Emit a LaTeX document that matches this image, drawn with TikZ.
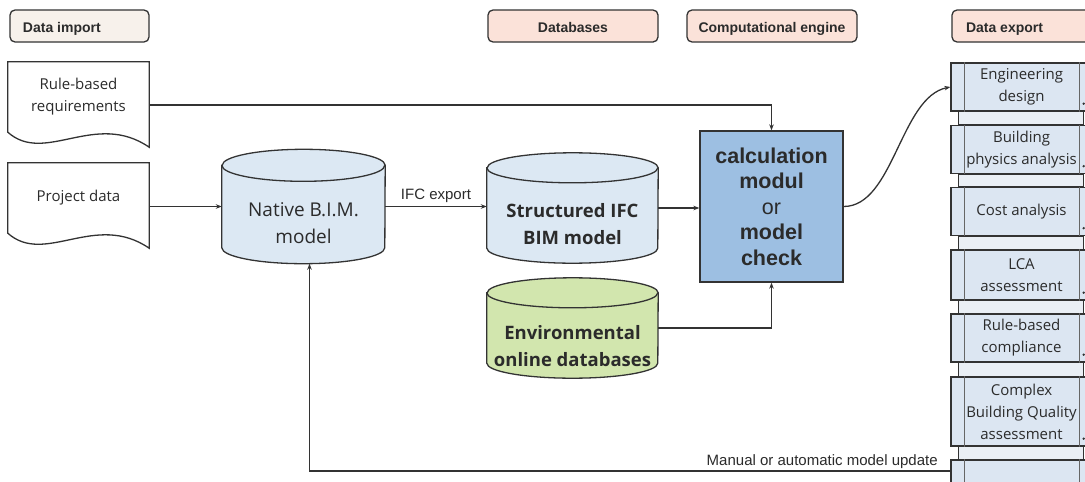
\documentclass[tikz,border=0pt]{standalone}
\usepackage{fontspec}
\setmainfont{Open Sans}
\newfontfamily\arialfont{Liberation Sans}
\usetikzlibrary{arrows.meta}
\pgfdeclarelayer{background}
\pgfsetlayers{background,main}
\definecolor{linegray}{HTML}{333333}
\definecolor{bargray}{HTML}{666666}
\definecolor{textgray}{HTML}{2B2B2B}
\definecolor{importbeige}{HTML}{F7F1EB}
\definecolor{headpink}{HTML}{FBE2D9}
\definecolor{dbblue}{HTML}{DCE8F3}
\definecolor{envgreen}{HTML}{D2E6AE}
\definecolor{calcblue}{HTML}{9DBFE2}
\definecolor{procblue}{HTML}{DCE6F2}
\definecolor{linkblue}{HTML}{EAEFF5}
\begin{document}
\begin{tikzpicture}
[x=1pt,y=-1pt,
  headdecorate/.style={shape=rectangle,rounded corners=5pt,draw=linegray,line width=1.3pt,
    minimum width=170pt,minimum height=32pt,inner sep=0pt,text=textgray,
    text height=13.5pt,text depth=0.5pt,
    font=\arialfont\bfseries\fontsize{14}{16}\selectfont},
  docdecorate/.style={shape=rectangle,minimum width=141pt,minimum height=70pt,align=center,
    text=textgray,font=\fontsize{15}{22}\selectfont},
  docline/.style={draw=linegray,line width=1.3pt},
  dbdecorate/.style={shape=rectangle,minimum width=163pt,minimum height=114pt},
  dbline/.style={draw=linegray,line width=1.3pt},
  dbtext/.style={align=center,text=textgray,font=\fontsize{19}{27}\selectfont},
  dbbold/.style={align=center,text=textgray,font=\bfseries\fontsize{18.5}{27}\selectfont},
  calcdecorate/.style={shape=rectangle,draw=linegray,line width=1.3pt,fill=calcblue,
    minimum width=143pt,minimum height=151pt,align=center,text=textgray,
    font=\arialfont\bfseries\fontsize{21.5}{25.5}\selectfont},
  procdecorate/.style={shape=rectangle,draw=linegray,line width=1.3pt,fill=procblue,
    minimum width=141pt,minimum height=48pt,align=center,text=textgray,
    font=\fontsize{15}{22}\selectfont},
  linkdecorate/.style={draw=linegray,line width=1.3pt,fill=linkblue},
  bardecorate/.style={draw=bargray,line width=1pt},
  linedecorate/.style={draw=linegray,line width=1.3pt,-{Stealth[length=6pt,width=4.5pt]}},
  labeldecorate/.style={text=textgray,font=\arialfont\fontsize{15}{17}\selectfont}]
\useasboundingbox (0,0) rectangle (1085,482);
\clip (0,0) rectangle (1085,482);
% headers
\node (dataimp) at (79.5,26) [headdecorate,fill=importbeige,minimum width=139pt] {\makebox[113pt][l]{Data import}};
\node (dbhead) at (573,26) [headdecorate,fill=headpink] {Databases};
\node (enghead) at (772,26) [headdecorate,fill=headpink] {Computational engine};
\node (exphead) at (1037,26) [headdecorate,fill=headpink] {\makebox[142pt][l]{Data export}};
% input documents
\node (ruledoc) at (78.5,97) [docdecorate] {Rule-based\\requirements};
\node (projdoc) at (78.5,198) [docdecorate] {Project data};
\foreach \d in {ruledoc,projdoc}
  \path[docline] (\d.south west) -- (\d.north west) -- (\d.north east) -- ([yshift=-15pt]\d.south east)
    .. controls ([xshift=-54pt,yshift=22pt]\d.south east) and ([xshift=37pt,yshift=-33pt]\d.south west) .. (\d.south west) -- cycle;
% databases
\node (nat) at (303.5,206.5) [dbdecorate,
  label={[dbtext,yshift=-17pt]center:Native B.I.M.\\model}] {};
\node (sib) at (572.5,208) [dbdecorate,minimum width=171pt,minimum height=110pt,
  label={[dbbold,yshift=-16pt]center:Structured IFC\\BIM model}] {};
\node (env) at (572.5,328) [dbdecorate,minimum width=171pt,minimum height=100pt,
  label={[dbbold,yshift=-18pt]center:Environmental\\online databases}] {};
\begin{pgfonlayer}{background}
\fill[white] (0,0) rectangle (1085,482);
\foreach \c/\f/\r/\h in {nat/dbblue/81.5/16,sib/dbblue/85.5/15,env/envgreen/85.5/15} {
  \path[dbline,fill=\f] ([yshift=-\h pt]\c.north west) -- ([yshift=\h pt]\c.south west)
    arc[start angle=180,end angle=360,x radius=\r pt,y radius=\h pt]
    -- ([yshift=-\h pt]\c.north east)
    arc[start angle=0,end angle=180,x radius=\r pt,y radius=\h pt] -- cycle;
  \draw[dbline] ([yshift=-\h pt]\c.north west) arc[start angle=180,end angle=360,x radius=\r pt,y radius=\h pt];
}
\end{pgfonlayer}
% computational engine
\node (calc) at (771.5,206.5) [calcdecorate] {calculation\\modul\\{\mdseries or}\\model\\check};
% export stack
\node (eng) at (1021.5,87) [procdecorate] {Engineering\\design};
\node (phy) at (1021.5,149.5) [procdecorate] {Building\\physics analysis};
\node (cost) at (1021.5,211.5) [procdecorate] {Cost analysis};
\node (lca) at (1021.5,275) [procdecorate,minimum height=50pt] {LCA\\assessment};
\node (rbc) at (1021.5,338) [procdecorate] {Rule-based\\compliance};
\node (cbq) at (1021.5,411.5) [procdecorate,minimum height=69pt] {Complex\\Building Quality\\assessment};
\node (last) at (1021.5,484) [procdecorate] {};
\foreach \a/\b in {eng/phy,phy/cost,cost/lca,lca/rbc,rbc/cbq,cbq/last}
  \draw[linkdecorate] ([xshift=8pt]\a.south west) rectangle ([xshift=-9pt]\b.north east);
\foreach \n in {eng,phy,cost,lca,rbc,cbq,last} {
  \draw[bardecorate] ([xshift=14pt]\n.north west) -- ([xshift=14pt]\n.south west);
  \draw[bardecorate] ([xshift=-13pt]\n.north east) -- ([xshift=-13pt]\n.south east);
  \fill[linegray] ([xshift=-9pt,yshift=8pt]\n.south east) circle (1.3pt);
}
% edges
\draw[linedecorate] ([yshift=-8pt]ruledoc.east) -| (calc.north);
\draw[linedecorate] (nat.west -| projdoc.east) -- (nat.west);
\draw[linedecorate] (nat.east) -- node[labeldecorate,above]{IFC export} (nat.east -| sib.west);
\draw[linedecorate] (sib.east) -- (sib.east -| calc.west);
\draw[linedecorate] (env.east) -| (calc.south);
\draw[linedecorate] (calc.east) .. controls +(50pt,0pt) and +(-50pt,-10pt) .. (eng.west);
\draw[linedecorate] ([yshift=13pt]last.west) -| node[labeldecorate,pos=0,anchor=south east,xshift=-10pt,inner sep=2pt]{Manual or automatic model update} ([xshift=6pt]nat.south);
\end{tikzpicture}
\end{document}
